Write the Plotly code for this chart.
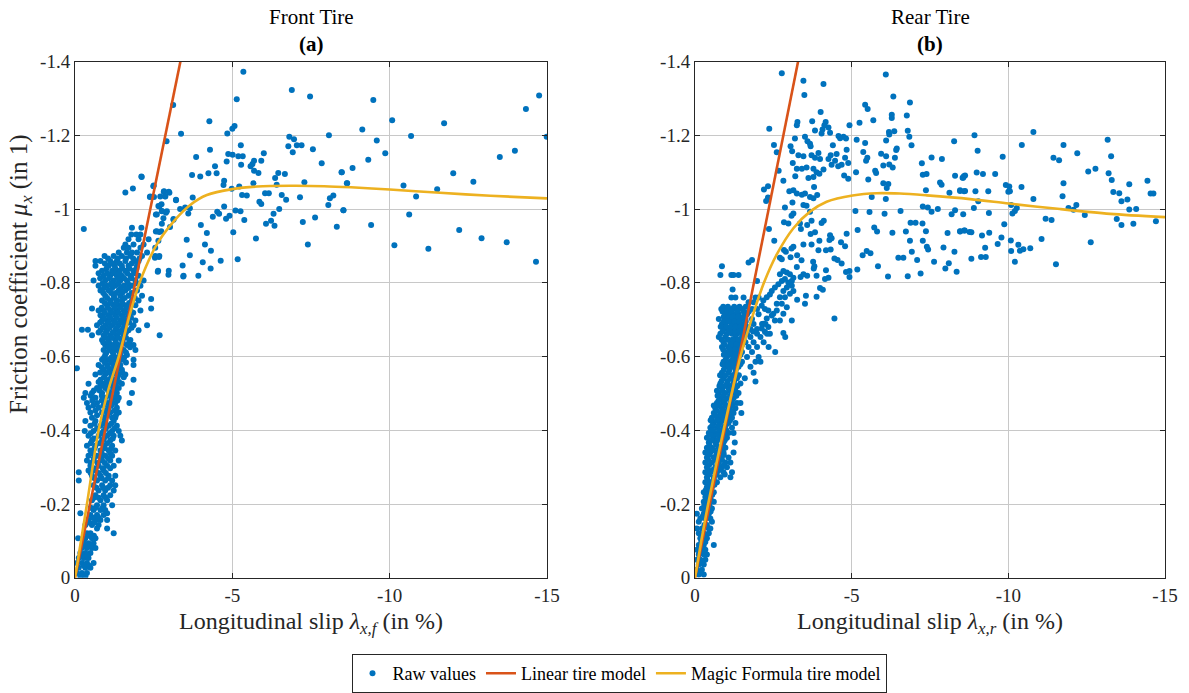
import plotly.graph_objects as go

W, H = 1189, 693
BLUE, RED, YEL = "#0072BD", "#D95319", "#EDB120"
FONT = "Liberation Serif, DejaVu Serif, serif"

# ---------------- Front tire data ----------------
front_sparse_x = [-5.35, -6.89, -7.47, -5.14, -3.12, -4.27, -5.0, -5.07, -4.84, -3.37, -6.81, -6.96, -8.07, -2.91,
                  -5.27, -6.78, -7.05, -7.2, -4.29, -7.56, -6.92, -4.87, -5.01, -5.19, -5.33, -3.85, -6.0, -5.69,
                  -5.92, -5.58, -5.64, -4.82, -5.28, -4.45, -7.84, -5.69, -5.83, -4.24, -4.5, -3.72, -3.98, -6.46,
                  -6.67, -8.48, -6.36, -2.12, -4.74, -4.72, -5.67, -7.29, -8.64, -2.49, -6.41, -5.22, -4.98, -2.83,
                  -3.0, -2.38, -2.51, -2.86, -6.04, -6.16, -6.57, -5.31, -5.46, -8.21, -8.1, -7.15, -3.74, -3.21,
                  -6.71, -5.86, -5.92, -2.75, -2.65, -4.74, -3.5, -3.34, -3.65, -8.05, -2.76, -2.89, -5.1, -5.26,
                  -3.6, -2.6, -4.52, -4.58, -6.49, -8.53, -6.31, -4.38, -4.91, -4.8, -3.13, -2.81, -5.38, -6.23,
                  -7.63, -2.76, -6.07, -6.34, -7.24, -4.0, -3.02, -8.32, -2.57, -2.68, -5.03, -4.19, -3.55, -5.75,
                  -7.4, -4.13, -2.65, -4.32, -2.54, -2.67, -3.65, -5.17, -4.63, -4.06, -3.42, -4.31, -2.63, -2.97,
                  -3.44, -3.92,
                  -9.48, -9.13, -10.08, -11.73, -14.33, -14.75, -14.99, -10.68, -9.59, -9.86, -9.32, -8.82, -8.47,
                  -8.65, -13.5, -13.98, -12.02, -12.66, -10.44, -11.51, -10.84, -8.53, -10.62, -9.41, -12.21, -12.92,
                  -13.72, -10.15, -11.23, -14.65]
front_sparse_y = [1.372, 1.323, 1.305, 1.298, 1.282, 1.238, 1.218, 1.225, 1.205, 1.204, 1.196, 1.189, 1.2, 1.184,
                  1.173, 1.17, 1.173, 1.173, 1.161, 1.162, 1.154, 1.149, 1.147, 1.143, 1.143, 1.141, 1.151, 1.131,
                  1.131, 1.116, 1.122, 1.129, 1.12, 1.116, 1.124, 1.104, 1.098, 1.097, 1.097, 1.092, 1.088, 1.098,
                  1.095, 1.1, 1.084, 1.087, 1.077, 1.065, 1.07, 1.073, 1.07, 1.062, 1.066, 1.061, 1.055, 1.048,
                  1.044, 1.033, 1.033, 1.035, 1.043, 1.043, 1.038, 1.038, 1.037, 1.037, 1.029, 1.032, 1.031, 1.024,
                  1.025, 1.02, 1.014, 1.013, 1.008, 1.007, 1.004, 1.0, 1.002, 1.011, 0.995, 0.99, 0.996, 0.994,
                  0.988, 0.985, 0.993, 0.987, 1.0, 0.997, 0.987, 0.979, 0.982, 0.974, 0.973, 0.975, 0.97, 0.968,
                  0.977, 0.96, 0.96, 0.955, 0.965, 0.957, 0.951, 0.952, 0.939, 0.938, 0.937, 0.935, 0.917, 0.92,
                  0.904, 0.904, 0.914, 0.887, 0.868, 0.87, 0.875, 0.864, 0.86, 0.856, 0.847, 0.839, 0.83, 0.822,
                  0.817, 0.819,
                  1.296, 1.216, 1.241, 1.233, 1.271, 1.308, 1.196, 1.198, 1.186, 1.151, 1.134, 1.111, 1.1,
                  1.07, 1.141, 1.158, 1.097, 1.074, 1.064, 1.054, 1.034, 0.997, 0.985, 0.957, 0.943, 0.921,
                  0.91, 0.902, 0.892, 0.857]

front_dense_rows = [
    (1.088, [-2.11]), (1.064, [-2.50]), (1.056, [-1.84]), (1.047, [-2.82, -2.98]), (1.045, [-1.60]),
    (1.034, [-2.39, -2.71, -2.87]), (1.025, [-3.21]), (1.007, [-2.68]), (0.994, [-2.76, -2.92]),
    (0.985, [-2.57]), (0.971, [-3.13]), (0.949, [-1.81, -2.11]), (0.946, [-0.28]), (0.940, [-2.60, -2.74]),
    (0.931, [-1.79, -1.95, -2.08]), (0.918, [-1.70, -2.02, -2.34]), (0.904, [-1.60, -1.86, -2.18]),
    (0.895, [-1.55, -1.70, -2.08, -2.55]), (0.882, [-1.39, -1.65, -1.81, -1.97, -2.29]),
    (0.873, [-0.94, -1.23, -1.49, -1.76, -2.13, -2.55, -2.68]),
    (0.859, [-0.65, -0.81, -1.12, -1.33, -1.60, -1.90, -2.02]),
    (0.846, [-0.65, -1.07, -1.26, -1.49, -1.70, -1.97]),
    (0.833, [-0.86, -1.18, -1.39, -1.60, -1.86, -2.64, -2.98]),
    (0.819, [-0.91, -1.12, -1.33, -1.49, -1.76, -2.02, -3.45]),
    (0.806, [-0.59, -0.96, -1.23, -1.44, -1.65, -1.92, -2.18]),
    (0.792, [-0.75, -1.02, -1.28, -1.55, -1.81, -2.08]),
    (0.779, [-0.81, -1.07, -1.39, -1.60, -1.97]),
    (0.765, [-0.96, -1.23, -1.44, -1.70, -2.13]), (0.756, [-2.42]),
    (0.752, [-0.86, -1.12, -1.33, -1.49, -1.81, -2.02]),
    (0.739, [-1.02, -1.23, -1.39, -1.60, -1.92]), (0.730, [-0.54, -2.42]),
    (0.725, [-0.75, -0.91, -1.12, -1.33, -1.55, -1.76, -2.08]),
    (0.712, [-0.81, -1.07, -1.28, -1.49, -1.70]),
    (0.698, [-0.86, -1.02, -1.23, -1.44, -1.65, -1.92]),
    (0.685, [-0.70, -0.96, -1.18, -1.39, -1.60, -1.86, -2.29]), (0.673, [-0.22, -0.41]),
    (0.671, [-0.81, -1.02, -1.28, -1.49, -1.70, -2.02]),
    (0.658, [-0.54, -0.91, -1.12, -1.33, -1.55, -2.69]),
    (0.645, [-0.86, -1.07, -1.28, -1.49, -1.76]),
    (0.631, [-0.96, -1.18, -1.39, -1.65, -1.86]),
    (0.618, [-0.91, -1.12, -1.33, -1.55, -1.92]),
    (0.604, [-0.96, -1.23, -1.44, -1.65]),
    (0.591, [-0.86, -1.07, -1.28, -1.49, -1.86]),
    (0.577, [-0.75, -1.02, -1.23, -1.44, -1.86]), (0.568, [-0.06]),
    (0.564, [-0.91, -1.12, -1.33, -1.49]),
    (0.551, [-0.65, -0.96, -1.18, -1.39, -1.60]),
    (0.537, [-0.81, -1.07, -1.28, -1.86]),
    (0.526, [-0.43, -0.91, -1.18, -1.49]),
    (0.515, [-0.70, -0.96, -1.23, -1.39]),
    (0.501, [-0.33, -0.54, -0.86, -1.12, -1.33, -1.81]),
    (0.488, [-0.28, -0.65, -0.96, -1.23, -1.39]),
    (0.474, [-0.38, -0.70, -1.02, -1.28, -1.73]),
    (0.461, [-0.43, -0.75, -1.07, -1.33]),
    (0.448, [-0.49, -0.86, -1.12, -1.39]),
    (0.434, [-0.54, -0.91, -1.18, -1.28]),
    (0.425, [-0.33, -0.65, -0.96, -1.23]),
    (0.412, [-0.49, -0.81, -1.07, -1.33]),
    (0.398, [-0.31, -0.59, -0.91, -1.18, -1.39]),
    (0.385, [-0.43, -0.75, -1.02, -1.23, -1.44]),
    (0.372, [-0.54, -0.86, -1.12, -1.49]),
    (0.358, [-0.38, -0.65, -0.91, -1.18]),
    (0.345, [-0.49, -0.81, -1.07, -1.28]),
    (0.331, [-0.43, -0.70, -0.96, -1.18]),
    (0.318, [-0.38, -0.59, -0.86, -1.12, -1.39]),
    (0.304, [-0.49, -0.75, -1.02, -1.23]),
    (0.291, [-0.43, -0.65, -0.91]), (0.286, [-0.12]),
    (0.277, [-0.54, -0.81, -1.07, -1.28]),
    (0.264, [-0.12, -0.70, -0.96, -1.18]),
    (0.251, [-0.59, -0.86, -1.12, -1.28]),
    (0.237, [-0.75, -0.96, -1.23]), (0.224, [-0.65, -0.91, -1.12]),
    (0.210, [-0.54, -0.81, -1.02]), (0.197, [-0.70, -0.91, -1.18]),
    (0.184, [-0.59, -0.81, -0.96]), (0.175, [-0.17, -1.02]),
    (0.170, [-0.49, -0.70, -0.91]), (0.157, [-0.43, -0.65, -0.81, -1.02]),
    (0.143, [-0.33, -0.54, -0.75]), (0.134, [-0.70, -1.02]),
    (0.121, [-0.38, -0.49, -1.23]), (0.107, [-0.10, -0.33, -0.54, -0.65]),
    (0.094, [-0.28, -0.43, -0.59]), (0.081, [-0.22, -0.38, -0.54, -0.65]),
    (0.067, [-0.17, -0.33, -0.49]), (0.054, [-0.12, -0.28, -0.43]),
    (0.040, [-0.06, -0.22, -0.38, -0.59]), (0.027, [-0.12, -0.33, -0.49]),
    (0.013, [-0.06, -0.22, -0.38]), (0.004, [-0.17, -0.33]),
]

front_fill_rows = [
    (0.866, [-1.05, -1.36, -1.62, -1.85, -2.05]), (0.852, [-0.95, -1.2, -1.42, -1.8]),
    (0.839, [-1.0, -1.28, -1.5, -1.73, -1.95]), (0.826, [-0.75, -1.02, -1.25, -1.42, -1.66, -1.9]),
    (0.812, [-0.8, -1.08, -1.36, -1.56, -1.8]), (0.799, [-0.88, -1.15, -1.38, -1.68, -1.95]),
    (0.786, [-0.92, -1.18, -1.45, -1.7]), (0.772, [-0.9, -1.15, -1.3, -1.5, -1.8]),
    (0.759, [-1.02, -1.25, -1.58, -1.9]), (0.745, [-0.95, -1.12, -1.3, -1.5, -1.72]),
    (0.732, [-0.85, -1.05, -1.25, -1.45, -1.66]), (0.719, [-0.95, -1.18, -1.38, -1.6, -1.85]),
    (0.705, [-0.92, -1.12, -1.33, -1.55, -1.78]), (0.692, [-0.8, -1.07, -1.28, -1.5, -1.72]),
    (0.678, [-0.88, -1.1, -1.33, -1.55, -1.8]), (0.665, [-0.75, -0.98, -1.2, -1.42, -1.62]),
    (0.651, [-0.98, -1.18, -1.38, -1.62]), (0.638, [-0.9, -1.08, -1.3, -1.52, -1.72]),
    (0.625, [-1.05, -1.25, -1.45, -1.75]), (0.611, [-1.0, -1.2, -1.42, -1.62]),
    (0.597, [-0.92, -1.15, -1.35, -1.56]), (0.584, [-0.95, -1.15, -1.35, -1.62]),
    (0.571, [-0.85, -1.05, -1.25, -1.42]), (0.557, [-0.8, -1.05, -1.28, -1.5]),
    (0.544, [-0.92, -1.15, -1.35, -1.55]), (0.531, [-0.75, -1.0, -1.25, -1.4]),
    (0.520, [-0.82, -1.08, -1.3]), (0.508, [-0.6, -0.78, -1.05, -1.25]),
    (0.494, [-0.5, -0.85, -1.08, -1.3]), (0.481, [-0.55, -0.85, -1.15, -1.35]),
    (0.467, [-0.58, -0.9, -1.15]), (0.454, [-0.65, -0.98, -1.25]), (0.441, [-0.7, -1.02, -1.3]),
    (0.418, [-0.62, -0.9, -1.15]), (0.405, [-0.7, -0.98, -1.25]), (0.392, [-0.5, -0.85, -1.1]),
    (0.378, [-0.6, -0.92, -1.2]), (0.365, [-0.5, -0.78, -1.02]), (0.351, [-0.62, -0.95, -1.15]),
    (0.338, [-0.55, -0.85, -1.12]), (0.324, [-0.6, -0.82, -1.05]), (0.311, [-0.5, -0.72, -0.95]),
    (0.297, [-0.6, -0.88, -1.12]), (0.284, [-0.5, -0.75, -0.98]), (0.270, [-0.62, -0.85, -1.05]),
    (0.244, [-0.68, -0.9, -1.05]), (0.217, [-0.6, -0.75, -0.98]), (0.190, [-0.5, -0.65, -0.88]),
    (0.163, [-0.58, -0.75]), (0.150, [-0.45, -0.62]), (0.114, [-0.45, -0.6]), (0.087, [-0.35, -0.5]),
    (0.060, [-0.25, -0.4]), (0.033, [-0.28, -0.45]),
]

front_linear_x = [0.0, -3.35]
front_linear_y = [0.0, -1.4]
front_mf_x = [0, -0.19, -0.38, -0.75, -1.06, -1.39, -1.73, -2.05, -2.6, -3.13, -3.66, -4.19, -5.0, -5.79,
              -6.85, -7.92, -8.77, -10.0, -11.6, -13.2, -15.0]
front_mf_y = [0, -0.1, -0.2, -0.4, -0.51, -0.6, -0.71, -0.8, -0.904, -0.966, -1.011, -1.038, -1.054, -1.061,
              -1.063, -1.062, -1.059, -1.053, -1.044, -1.036, -1.029]

# ---------------- Rear tire data ----------------
rear_sparse_x = [-2.77, -3.46, -4.10, -3.49, -6.09, -6.33, -6.86, -5.43, -5.51, -4.01, -6.28, -6.28, -6.76, -3.27,
                 -3.25, -3.74, -4.17, -4.13, -4.26, -4.07, -5.25, -5.69, -4.93, -2.37, -3.83, -4.04, -4.31, -6.19,
                 -6.2, -6.36, -6.79, -6.84, -4.58, -4.74, -4.82, -4.63, -3.19, -3.51, -3.59, -3.67, -3.69, -5.16,
                 -6.1, -2.52, -3.05, -3.1, -4.4, -5.43, -6.91, -6.44, -6.42, -2.61, -4.84, -5.37, -8.27, -3.3,
                 -3.46, -3.72, -3.94, -3.99, -3.83, -4.33, -4.52, -4.26, -4.47, -4.79, -4.89, -5.94, -6.1, -6.38,
                 -7.55, -7.88, -5.46, -5.5, -3.12, -3.25, -3.41, -3.56, -3.78, -3.88, -3.97, -4.1, -4.36, -4.57,
                 -4.68, -6.01, -6.2, -6.31, -7.24, -5.75, -5.78, -5.14, -2.67, -4.76, -4.89, -3.2, -3.62, -3.78,
                 -7.27, -7.39, -8.3, -8.58, -8.54, -2.82, -2.33, -2.2, -2.33, -2.27, -5.53, -6.01, -6.12, -6.17,
                 -7.82, -7.87, -3.8, -3.01, -3.14, -3.25, -3.41, -3.51, -7.37, -8.12, -8.46, -8.62, -3.67, -3.78,
                 -3.9, -5.64, -6.09, -3.11, -3.46, -3.56, -2.87, -7.27, -7.43, -7.75, -8.3, -8.19, -6.56, -5.12,
                 -5.57, -6.05, -7.55, -3.14, -3.08, -3.67, -2.84, -2.98, -3.35, -3.58, -3.72, -4.04, -4.11, -6.88,
                 -7.04, -7.26, -2.36, -3.38, -5.72, -5.81, -5.19, -4.84, -6.3, -6.73, -7.37, -8.06, -8.46, -8.61,
                 -8.76, -3.69, -3.83, -3.97, -4.31, -4.36, -4.29, -2.53, -4.66, -4.79, -6.86, -7.27, -3.14, -3.08,
                 -2.84, -2.9, -3.46, -3.72, -3.94, -4.18, -4.33, -7.93, -8.28, -5.48, -5.6, -5.35, -7.4, -7.44,
                 -6.92, -2.71, -2.77, -3.26, -3.4, -3.05, -4.45, -4.55, -4.68, -6.49, -6.65, -7.09, -7.63, -3.77,
                 -3.81, -3.79, -3.25, -5.84, -8.1, -7.99, -8.35, -4.18, -4.93, -4.82, -5.18, -3.46, -3.58, -3.37,
                 -3.88, -4.26, -4.15, -4.93, -6.16, -6.79, -7.2, -3.99, -4.08, -3.54, -3.88, -3.26, -3.51, -4.45,
                 -2.71, -2.82, -2.93, -3.03, -3.14, -3.09, -2.98, -2.87, -2.77, -2.66, -2.55, -2.45, -2.39, -2.29,
                 -2.18, -2.13, -2.23, -2.34, -2.5, -2.61, -2.71, -2.82, -2.93, -3.09, -3.14, -3.03, -2.87, -2.77,
                 -2.61, -2.45, -2.29, -2.18, -2.13, -2.34, -2.55, -2.71, -2.82, -2.93, -3.09, -2.82, -2.23, -2.39,
                 -8.92, -10.80, -13.17, -9.02, -10.43, -11.76, -9.82, -11.44, -11.62, -12.20, -13.28, -8.56, -8.62,
                 -8.99, -9.19, -9.58, -12.55, -12.78, -13.2, -13.3, -14.44, -13.86, -8.46, -8.59, -8.95, -9.36,
                 -9.92, -10.03, -10.0, -10.05, -10.42, -11.76, -13.35, -13.54, -13.61, -13.8, -14.54, -14.63, -10.8,
                 -11.73, -9.04, -8.9, -10.09, -10.27, -10.21, -10.13, -11.92, -12.17, -12.08, -13.86, -14.08, -8.56,
                 -9.38, -12.44, -11.19, -11.38, -13.46, -9.87, -13.61, -13.99, -14.71, -8.46, -8.59, -8.82, -9.16,
                 -9.39, -9.78, -10.08, -9.66, -11.06, -12.63, -9.26, -10.32, -10.09, -10.37, -10.48, -10.7, -8.82,
                 -9.13, -9.28, -10.21, -11.52]
rear_sparse_y = [1.368, 1.348, 1.339, 1.309, 1.365, 1.305, 1.289, 1.283, 1.271, 1.263, 1.256, 1.247, 1.254, 1.236,
                 1.227, 1.238, 1.236, 1.227, 1.221, 1.216, 1.234, 1.241, 1.227, 1.218, 1.213, 1.205, 1.207, 1.209,
                 1.202, 1.211, 1.212, 1.196, 1.198, 1.196, 1.191, 1.192, 1.191, 1.196, 1.184, 1.177, 1.17, 1.188,
                 1.186, 1.174, 1.17, 1.157, 1.173, 1.179, 1.173, 1.164, 1.16, 1.154, 1.161, 1.155, 1.184, 1.146,
                 1.143, 1.146, 1.152, 1.136, 1.139, 1.146, 1.149, 1.136, 1.131, 1.139, 1.125, 1.15, 1.143, 1.139,
                 1.14, 1.136, 1.131, 1.139, 1.125, 1.109, 1.109, 1.113, 1.109, 1.1, 1.096, 1.107, 1.12, 1.116,
                 1.12, 1.118, 1.121, 1.113, 1.124, 1.104, 1.098, 1.1, 1.104, 1.091, 1.082, 1.089, 1.084, 1.087,
                 1.093, 1.095, 1.09, 1.089, 1.085, 1.077, 1.062, 1.053, 1.031, 1.022, 1.08, 1.07, 1.057, 1.068,
                 1.072, 1.066, 1.06, 1.048, 1.051, 1.042, 1.039, 1.042, 1.051, 1.044, 1.049, 1.049, 1.033, 1.029,
                 1.038, 1.033, 1.027, 1.018, 1.011, 1.009, 1.004, 1.007, 1.004, 1.0, 0.997, 0.986, 0.995, 0.995,
                 0.992, 0.987, 0.993, 0.988, 0.982, 0.993, 0.964, 0.961, 0.961, 0.957, 0.968, 0.962, 0.968, 0.963,
                 0.963, 0.961, 0.946, 0.946, 0.95, 0.939, 0.943, 0.933, 0.936, 0.939, 0.94, 0.935, 0.94, 0.942,
                 0.938, 0.932, 0.937, 0.914, 0.929, 0.921, 0.916, 0.914, 0.91, 0.899, 0.914, 0.914, 0.898, 0.893,
                 0.889, 0.884, 0.904, 0.904, 0.888, 0.888, 0.89, 0.896, 0.884, 0.886, 0.88, 0.875, 0.898, 0.89,
                 0.884, 0.868, 0.864, 0.875, 0.861, 0.869, 0.866, 0.862, 0.852, 0.868, 0.868, 0.862, 0.857, 0.857,
                 0.845, 0.839, 0.843, 0.845, 0.853, 0.839, 0.83, 0.834, 0.832, 0.829, 0.836, 0.823, 0.819, 0.816,
                 0.819, 0.814, 0.81, 0.816, 0.817, 0.818, 0.825, 0.786, 0.781, 0.765, 0.762, 0.754, 0.743, 0.703,
                 0.823, 0.832, 0.828, 0.823, 0.814, 0.805, 0.801, 0.81, 0.805, 0.796, 0.787, 0.778, 0.768, 0.761,
                 0.752, 0.738, 0.729, 0.725, 0.716, 0.743, 0.761, 0.778, 0.787, 0.792, 0.778, 0.77, 0.761, 0.743,
                 0.725, 0.711, 0.703, 0.689, 0.676, 0.68, 0.698, 0.698, 0.716, 0.734, 0.698, 0.664, 0.667, 0.662,
                 1.2, 1.209, 1.188, 1.158, 1.174, 1.174, 1.142, 1.139, 1.132, 1.151, 1.143, 1.085, 1.091,
                 1.099, 1.095, 1.095, 1.102, 1.109, 1.097, 1.079, 1.077, 1.067, 1.051, 1.048, 1.048, 1.048,
                 1.065, 1.061, 1.047, 1.048, 1.06, 1.07, 1.046, 1.043, 1.021, 1.026, 1.042, 1.042, 1.027,
                 1.035, 1.021, 1.003, 1.011, 1.003, 0.995, 0.988, 1.003, 1.011, 0.998, 0.999, 1.0, 0.986,
                 0.989, 0.984, 0.974, 0.97, 0.973, 0.959, 0.957, 0.96, 0.967, 0.939, 0.942, 0.937, 0.928,
                 0.936, 0.923, 0.915, 0.905, 0.919, 0.91, 0.895, 0.903, 0.886, 0.887, 0.891, 0.894, 0.865,
                 0.87, 0.87, 0.857, 0.85]

rear_dense_rows = [
    (0.862, [-1.82]), (0.855, [-1.71]), (0.845, [-0.86]), (0.821, [-0.81, -1.16, -1.23, -1.39]),
    (0.805, [-1.98]), (0.782, [-1.20]), (0.760, [-1.16, -1.29, -1.55, -1.93, -2.03]), (0.747, [-1.71, -1.87]),
    (0.729, [-0.84, -0.91, -1.18, -1.29, -1.50, -1.82, -1.98]),
    (0.715, [-0.97, -1.07, -1.23, -1.39, -1.66, -2.03]),
    (0.702, [-0.76, -1.02, -1.13, -1.29, -1.45, -1.61, -1.82]),
    (0.688, [-0.86, -0.97, -1.18, -1.34, -1.50, -1.87, -2.14, -2.25]),
    (0.675, [-0.91, -1.07, -1.23, -1.39, -1.55, -1.77, -1.98]),
    (0.662, [-0.81, -1.02, -1.18, -1.34, -1.50, -1.66, -1.98, -2.30]),
    (0.653, [-0.76, -0.97, -1.29, -1.50, -1.77, -2.09, -2.88]),
    (0.639, [-0.91, -1.13, -1.29, -1.45, -1.61, -1.87, -2.19]),
    (0.626, [-0.86, -1.07, -1.23, -1.39, -1.71, -1.98, -2.35]),
    (0.612, [-0.97, -1.18, -1.34, -1.50, -1.82, -2.56]),
    (0.599, [-1.02, -1.23, -1.39, -1.66, -2.03]),
    (0.586, [-0.91, -1.13, -1.29, -1.50, -1.93, -2.09]),
    (0.572, [-0.97, -1.18, -1.39, -1.77]), (0.556, [-0.86, -1.07, -1.29, -1.87]),
    (0.541, [-0.91, -1.13, -1.34, -1.59]), (0.532, [-1.93]),
    (0.527, [-0.81, -1.02, -1.23, -1.45]), (0.514, [-0.86, -1.07, -1.29]),
    (0.501, [-0.76, -0.97, -1.18, -1.39]), (0.487, [-0.81, -1.02, -1.23]),
    (0.474, [-0.70, -0.91, -1.13, -1.34, -1.45]), (0.460, [-0.65, -0.86, -1.07, -1.29]),
    (0.447, [-0.60, -0.81, -1.02, -1.23, -1.48]), (0.434, [-0.54, -0.76, -0.97, -1.18]),
    (0.420, [-0.60, -0.81, -1.07, -1.29]), (0.407, [-0.49, -0.70, -0.91, -1.18]),
    (0.393, [-0.44, -0.65, -0.86, -1.07, -1.23]), (0.380, [-0.38, -0.60, -0.81, -1.02]),
    (0.367, [-0.44, -0.65, -0.91, -1.27]), (0.353, [-0.38, -0.54, -0.76, -0.97]),
    (0.340, [-0.33, -0.49, -0.70, -0.91, -1.23]), (0.326, [-0.38, -0.60, -0.81, -1.07]),
    (0.313, [-0.33, -0.54, -0.76, -0.97, -1.13]), (0.300, [-0.38, -0.65, -0.86, -1.02]),
    (0.286, [-0.33, -0.49, -0.70, -0.91, -1.18]), (0.273, [-0.38, -0.60, -0.81, -1.13]),
    (0.259, [-0.33, -0.49, -0.70]), (0.246, [-0.38, -0.54]), (0.232, [-0.28, -0.44, -0.60]),
    (0.219, [-0.33, -0.49]), (0.206, [-0.28, -0.44, -0.60]), (0.188, [-0.22, -0.38, -0.54]),
    (0.174, [-0.06, -0.28, -0.44]), (0.161, [-0.17, -0.33, -0.49]), (0.152, [-0.12, -0.54]),
    (0.134, [-0.06, -0.22, -0.44, -0.49]), (0.121, [-0.12, -0.28, -0.44]), (0.107, [-0.17, -0.38]),
    (0.089, [-0.12, -0.28, -0.60]), (0.076, [-0.06, -0.22, -0.33]), (0.063, [-0.12, -0.28, -0.38]),
    (0.049, [-0.06, -0.17, -0.33]), (0.036, [-0.12, -0.28]), (0.022, [-0.06, -0.22]), (0.009, [-0.12, -0.28]),
]

rear_fill_rows = [
    (0.735, [-0.9, -1.05, -1.25, -1.42, -1.62]), (0.722, [-0.88, -1.02, -1.15, -1.35, -1.55, -1.72]),
    (0.708, [-0.92, -1.08, -1.2, -1.38, -1.55]), (0.695, [-0.92, -1.08, -1.25, -1.42, -1.62]),
    (0.681, [-0.82, -1.0, -1.15, -1.3, -1.45, -1.65]), (0.668, [-0.88, -1.1, -1.28, -1.42, -1.6, -1.85]),
    (0.646, [-0.85, -1.05, -1.2, -1.38, -1.55]), (0.632, [-0.95, -1.15, -1.32, -1.5]),
    (0.619, [-0.9, -1.1, -1.28, -1.45]), (0.605, [-0.92, -1.1, -1.28, -1.45]),
    (0.592, [-0.98, -1.2, -1.36]), (0.579, [-0.88, -1.05, -1.25, -1.45]),
    (0.564, [-0.92, -1.1, -1.3]), (0.549, [-0.8, -0.98, -1.2, -1.4]),
    (0.534, [-0.85, -1.05, -1.25]), (0.520, [-0.78, -0.95, -1.15, -1.35]),
    (0.507, [-0.7, -0.88, -1.1, -1.28]), (0.494, [-0.72, -0.9, -1.12, -1.32]),
    (0.480, [-0.75, -0.95, -1.18]), (0.467, [-0.6, -0.78, -0.98, -1.2]),
    (0.453, [-0.7, -0.92, -1.15]), (0.440, [-0.65, -0.88, -1.08]),
    (0.427, [-0.5, -0.7, -0.9, -1.12]), (0.413, [-0.55, -0.75, -0.98]),
    (0.400, [-0.55, -0.78, -1.0]), (0.387, [-0.5, -0.72, -0.95]),
    (0.373, [-0.52, -0.72, -0.95]), (0.360, [-0.46, -0.68, -0.88]),
    (0.346, [-0.42, -0.6, -0.82]), (0.333, [-0.45, -0.68, -0.92]),
    (0.320, [-0.42, -0.65, -0.86]), (0.306, [-0.45, -0.72, -0.92]),
    (0.293, [-0.42, -0.58, -0.8]), (0.280, [-0.45, -0.68, -0.95]),
    (0.266, [-0.4, -0.6]), (0.252, [-0.44, -0.62]), (0.239, [-0.35, -0.5]), (0.225, [-0.38, -0.55]),
    (0.212, [-0.35, -0.5]), (0.197, [-0.3, -0.46]), (0.180, [-0.33, -0.5]), (0.167, [-0.25, -0.4]),
    (0.143, [-0.3, -0.38]), (0.113, [-0.25, -0.32]), (0.097, [-0.2, -0.33]), (0.070, [-0.15, -0.3]),
    (0.042, [-0.22]), (0.015, [-0.18]),
]

rear_linear_x = [0.0, -3.29]
rear_linear_y = [0.0, -1.4]
rear_mf_x = [0, -0.2, -0.42, -0.91, -1.45, -1.8, -2.2, -2.61, -3.14, -3.67, -4.2, -5.03, -5.8, -6.54, -7.4,
             -8.78, -10.01, -11.65, -13.25, -15.0]
rear_mf_y = [0, -0.1, -0.2, -0.4, -0.6, -0.7, -0.8, -0.877, -0.948, -0.993, -1.02, -1.037, -1.043, -1.042,
             -1.037, -1.027, -1.015, -1.0, -0.987, -0.978]

x_tickvals = [0, -5, -10, -15]
x_ticktext = ["0", "-5", "-10", "-15"]
y_tickvals = [0, -0.2, -0.4, -0.6, -0.8, -1.0, -1.2, -1.4]
y_ticktext = ["0", "-0.2", "-0.4", "-0.6", "-0.8", "-1", "-1.2", "-1.4"]


def collect(sparse_x, sparse_y, *row_sets):
    xs = list(sparse_x)
    ys = [-v for v in sparse_y]
    for rows in row_sets:
        for yv, xl in rows:
            for xv in xl:
                xs.append(xv)
                ys.append(-yv)
    return xs, ys


fig = go.Figure()
panels = [
    ("x", "y", collect(front_sparse_x, front_sparse_y, front_dense_rows, front_fill_rows),
     front_linear_x, front_linear_y, front_mf_x, front_mf_y, True),
    ("x2", "y2", collect(rear_sparse_x, rear_sparse_y, rear_dense_rows, rear_fill_rows),
     rear_linear_x, rear_linear_y, rear_mf_x, rear_mf_y, False),
]
for xa, ya, pts, lx, ly, mx, my, show in panels:
    px, py = pts
    fig.add_trace(go.Scatter(x=px, y=py, mode="markers", xaxis=xa, yaxis=ya, name="Raw values",
                             marker=dict(color=BLUE, size=6, line=dict(width=0)), showlegend=show))
    fig.add_trace(go.Scatter(x=lx, y=ly, mode="lines", xaxis=xa, yaxis=ya, name="Linear tire model",
                             line=dict(color=RED, width=2.6), showlegend=show))
    fig.add_trace(go.Scatter(x=mx, y=my, mode="lines", xaxis=xa, yaxis=ya, name="Magic Formula tire model",
                             line=dict(color=YEL, width=2.6, shape="spline", smoothing=0.8), showlegend=show))

left_dom = [75 / W, 547 / W]
right_dom = [695 / W, 1165 / W]
y_dom = [1 - 582 / H, 1 - 62 / H]

axis_common = dict(showline=True, mirror="ticks", linecolor="#262626", linewidth=1,
                   ticks="inside", ticklen=5, tickcolor="#262626", automargin=False,
                   showgrid=True, gridcolor="#c8c8c8", gridwidth=1, zeroline=False,
                   tickfont=dict(family=FONT, size=19, color="#262626"))

fig.update_layout(
    width=W, height=H, autosize=False, margin=dict(l=0, r=0, t=0, b=0, pad=0),
    paper_bgcolor="white", plot_bgcolor="white",
    xaxis=dict(domain=left_dom, range=[0, -15], tickvals=x_tickvals, ticktext=x_ticktext, anchor="y", **axis_common),
    yaxis=dict(domain=y_dom, range=[0, -1.4], tickvals=y_tickvals, ticktext=y_ticktext, anchor="x", **axis_common),
    xaxis2=dict(domain=right_dom, range=[0, -15], tickvals=x_tickvals, ticktext=x_ticktext, anchor="y2", **axis_common),
    yaxis2=dict(domain=y_dom, range=[0, -1.4], tickvals=y_tickvals, ticktext=y_ticktext, anchor="x2", **axis_common),
    showlegend=True,
    legend=dict(orientation="h", x=619 / W, xanchor="center", y=1 - 659 / H, yanchor="top",
                bordercolor="#262626", borderwidth=1, bgcolor="white",
                font=dict(family=FONT, size=18, color="#000000"),
                itemwidth=30, tracegroupgap=0),
)

title_font = dict(family=FONT, size=21, color="#000000")
xlab_font = dict(family=FONT, size=24, color="#262626")
cx_left = (75 + 547) / 2 / W
cx_right = (695 + 1165) / 2 / W
annotations = [
    dict(text="Front Tire", x=cx_left, y=1 - 17 / H, font=title_font),
    dict(text="<b>(a)</b>", x=cx_left, y=1 - 44 / H, font=title_font),
    dict(text="Rear Tire", x=cx_right, y=1 - 17 / H, font=title_font),
    dict(text="<b>(b)</b>", x=cx_right, y=1 - 44 / H, font=title_font),
    dict(text="Longitudinal slip <i>λ</i><sub><i>x,f</i></sub> (in %)", x=311 / W, y=1 - 628 / H, font=xlab_font),
    dict(text="Longitudinal slip <i>λ</i><sub><i>x,r</i></sub> (in %)", x=930 / W, y=1 - 628 / H, font=xlab_font),
]
for a in annotations:
    fig.add_annotation(xref="paper", yref="paper", showarrow=False, xanchor="center", yanchor="middle", **a)
fig.add_annotation(xref="paper", yref="paper", showarrow=False, x=20 / W, y=1 - 276 / H,
                   xanchor="center", yanchor="middle", textangle=-90,
                   font=dict(family=FONT, size=25, color="#262626"),
                   text="Friction coefficient <i>μ</i><sub><i>x</i></sub> (in 1)")

fig.write_html("out.html", config={"responsive": False},
               post_script="document.body.style.margin='0';document.body.style.overflow='hidden';")
